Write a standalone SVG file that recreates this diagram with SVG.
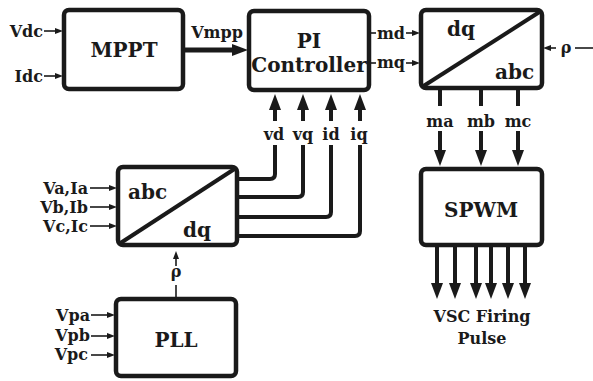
<svg xmlns="http://www.w3.org/2000/svg" width="593" height="381" viewBox="0 0 593 381">
<style>
text{font-family:"DejaVu Serif","Liberation Serif",serif;font-weight:bold;fill:#1a1a1a}
.box{fill:#fff;stroke:#1a1a1a;stroke-width:4.5}
.diag{stroke:#1a1a1a;stroke-width:4}
.big{font-size:20px}
.mid{font-size:16px}
.thick{fill:none;stroke:#1a1a1a;stroke-width:4}
.thin{fill:none;stroke:#1a1a1a;stroke-width:1.6}
</style>
<defs>
<marker id="ah" viewBox="0 0 16 12" refX="0" refY="6" markerWidth="16" markerHeight="12" markerUnits="userSpaceOnUse" orient="auto"><path d="M0,0L16,6L0,12z" fill="#1a1a1a"/></marker>
<marker id="as" viewBox="0 0 8 6" refX="0" refY="3" markerWidth="8" markerHeight="6" markerUnits="userSpaceOnUse" orient="auto"><path d="M0,0L8,3L0,6z" fill="#1a1a1a"/></marker>
</defs>
<g id="connectors">
<line class="thin" x1="44" y1="31" x2="55" y2="31" marker-end="url(#as)"/>
<line class="thin" x1="44" y1="76" x2="55" y2="76" marker-end="url(#as)"/>
<line x1="184" y1="50" x2="232" y2="50" stroke="#1a1a1a" stroke-width="5" marker-end="url(#ah)"/>
<line class="thin" x1="370" y1="33" x2="376" y2="33"/>
<line class="thin" x1="406" y1="33" x2="412" y2="33" marker-end="url(#as)"/>
<line class="thin" x1="370" y1="63" x2="376" y2="63"/>
<line class="thin" x1="406" y1="63" x2="412" y2="63" marker-end="url(#as)"/>
<line class="thin" x1="593" y1="48" x2="575" y2="48"/>
<line class="thin" x1="556" y1="48" x2="551" y2="48" marker-end="url(#as)"/>
<line class="thick" x1="440" y1="89" x2="440" y2="106"/>
<line class="thick" x1="440" y1="131" x2="440" y2="150" marker-end="url(#ah)"/>
<line class="thick" x1="481" y1="89" x2="481" y2="106"/>
<line class="thick" x1="481" y1="131" x2="481" y2="150" marker-end="url(#ah)"/>
<line class="thick" x1="518" y1="89" x2="518" y2="106"/>
<line class="thick" x1="518" y1="131" x2="518" y2="150" marker-end="url(#ah)"/>
<line class="thick" x1="437" y1="246" x2="437" y2="283" marker-end="url(#ah)"/>
<line class="thick" x1="455" y1="246" x2="455" y2="283" marker-end="url(#ah)"/>
<line class="thick" x1="476" y1="246" x2="476" y2="283" marker-end="url(#ah)"/>
<line class="thick" x1="491" y1="246" x2="491" y2="283" marker-end="url(#ah)"/>
<line class="thick" x1="508" y1="246" x2="508" y2="283" marker-end="url(#ah)"/>
<line class="thick" x1="525" y1="246" x2="525" y2="283" marker-end="url(#ah)"/>
<path class="thick" d="M238,179H270Q275,179 275,174V145"/>
<line class="thick" x1="275" y1="121" x2="275" y2="110" marker-end="url(#ah)"/>
<path class="thick" d="M238,197H298Q303,197 303,192V145"/>
<line class="thick" x1="303" y1="121" x2="303" y2="110" marker-end="url(#ah)"/>
<path class="thick" d="M238,217H326Q331,217 331,212V145"/>
<line class="thick" x1="331" y1="121" x2="331" y2="110" marker-end="url(#ah)"/>
<path class="thick" d="M238,236H355Q360,236 360,231V145"/>
<line class="thick" x1="360" y1="121" x2="360" y2="110" marker-end="url(#ah)"/>
<line class="thin" x1="90" y1="188" x2="109" y2="188" marker-end="url(#as)"/>
<line class="thin" x1="90" y1="207" x2="109" y2="207" marker-end="url(#as)"/>
<line class="thin" x1="90" y1="226" x2="109" y2="226" marker-end="url(#as)"/>
<line class="thin" x1="176" y1="298" x2="176" y2="285"/>
<line class="thin" x1="176" y1="266" x2="176" y2="259" marker-end="url(#as)"/>
<line class="thin" x1="91" y1="315" x2="107" y2="315" marker-end="url(#as)"/>
<line class="thin" x1="91" y1="336" x2="107" y2="336" marker-end="url(#as)"/>
<line class="thin" x1="91" y1="355" x2="107" y2="355" marker-end="url(#as)"/>
</g>
<g id="labels">
<text class="mid" x="43" y="37" text-anchor="end">Vdc</text>
<text class="mid" x="43" y="82" text-anchor="end">Idc</text>
<text class="mid" x="217" y="38" text-anchor="middle">Vmpp</text>
<text class="mid" x="391" y="39" text-anchor="middle">md</text>
<text class="mid" x="391" y="68" text-anchor="middle">mq</text>
<text class="mid" x="566" y="53" text-anchor="middle">ρ</text>
<text class="mid" x="440" y="127" text-anchor="middle" font-size="17">ma</text>
<text class="mid" x="481" y="127" text-anchor="middle" font-size="17">mb</text>
<text class="mid" x="518" y="127" text-anchor="middle" font-size="17">mc</text>
<text class="mid" x="482" y="322" text-anchor="middle" font-size="17">VSC Firing</text>
<text class="mid" x="482" y="344" text-anchor="middle" font-size="17">Pulse</text>
<text class="mid" x="274" y="140" text-anchor="middle" font-size="18">vd</text>
<text class="mid" x="303" y="140" text-anchor="middle" font-size="18">vq</text>
<text class="mid" x="331" y="140" text-anchor="middle" font-size="18">id</text>
<text class="mid" x="359" y="140" text-anchor="middle" font-size="18">iq</text>
<text class="mid" x="88" y="194" text-anchor="end">Va,Ia</text>
<text class="mid" x="88" y="213" text-anchor="end">Vb,Ib</text>
<text class="mid" x="88" y="232" text-anchor="end">Vc,Ic</text>
<text class="mid" x="176" y="277" text-anchor="middle">ρ</text>
<text class="mid" x="90" y="321" text-anchor="end">Vpa</text>
<text class="mid" x="90" y="341" text-anchor="end">Vpb</text>
<text class="mid" x="88" y="360" text-anchor="end">Vpc</text>
</g>
<g id="mppt">
<rect class="box" x="64" y="10" width="119" height="79" rx="5"/>
<text class="big" x="124" y="57" text-anchor="middle">MPPT</text>
</g>
<g id="pi">
<rect class="box" x="249" y="11" width="120" height="79" rx="5"/>
<text class="big" x="309" y="48" text-anchor="middle">PI</text>
<text class="big" x="309" y="72" text-anchor="middle">Controller</text>
</g>
<g id="dq_abc">
<rect class="box" x="421" y="10" width="121" height="78" rx="5"/>
<line class="diag" x1="422" y1="87" x2="541" y2="11"/>
<text class="big" x="447" y="36" font-size="21">dq</text>
<text class="big" x="495" y="79" font-size="21">abc</text>
</g>
<g id="spwm">
<rect class="box" x="421" y="169" width="121" height="76" rx="5"/>
<text class="big" x="481" y="217" text-anchor="middle">SPWM</text>
</g>
<g id="abc_dq">
<rect class="box" x="118" y="167" width="119" height="78" rx="5"/>
<line class="diag" x1="119" y1="244" x2="236" y2="168"/>
<text class="big" x="128" y="199" font-size="21">abc</text>
<text class="big" x="183" y="237" font-size="21">dq</text>
</g>
<g id="pll">
<rect class="box" x="116" y="299" width="120" height="77" rx="5"/>
<text class="big" x="176" y="347" text-anchor="middle" font-size="19">PLL</text>
</g>
</svg>
